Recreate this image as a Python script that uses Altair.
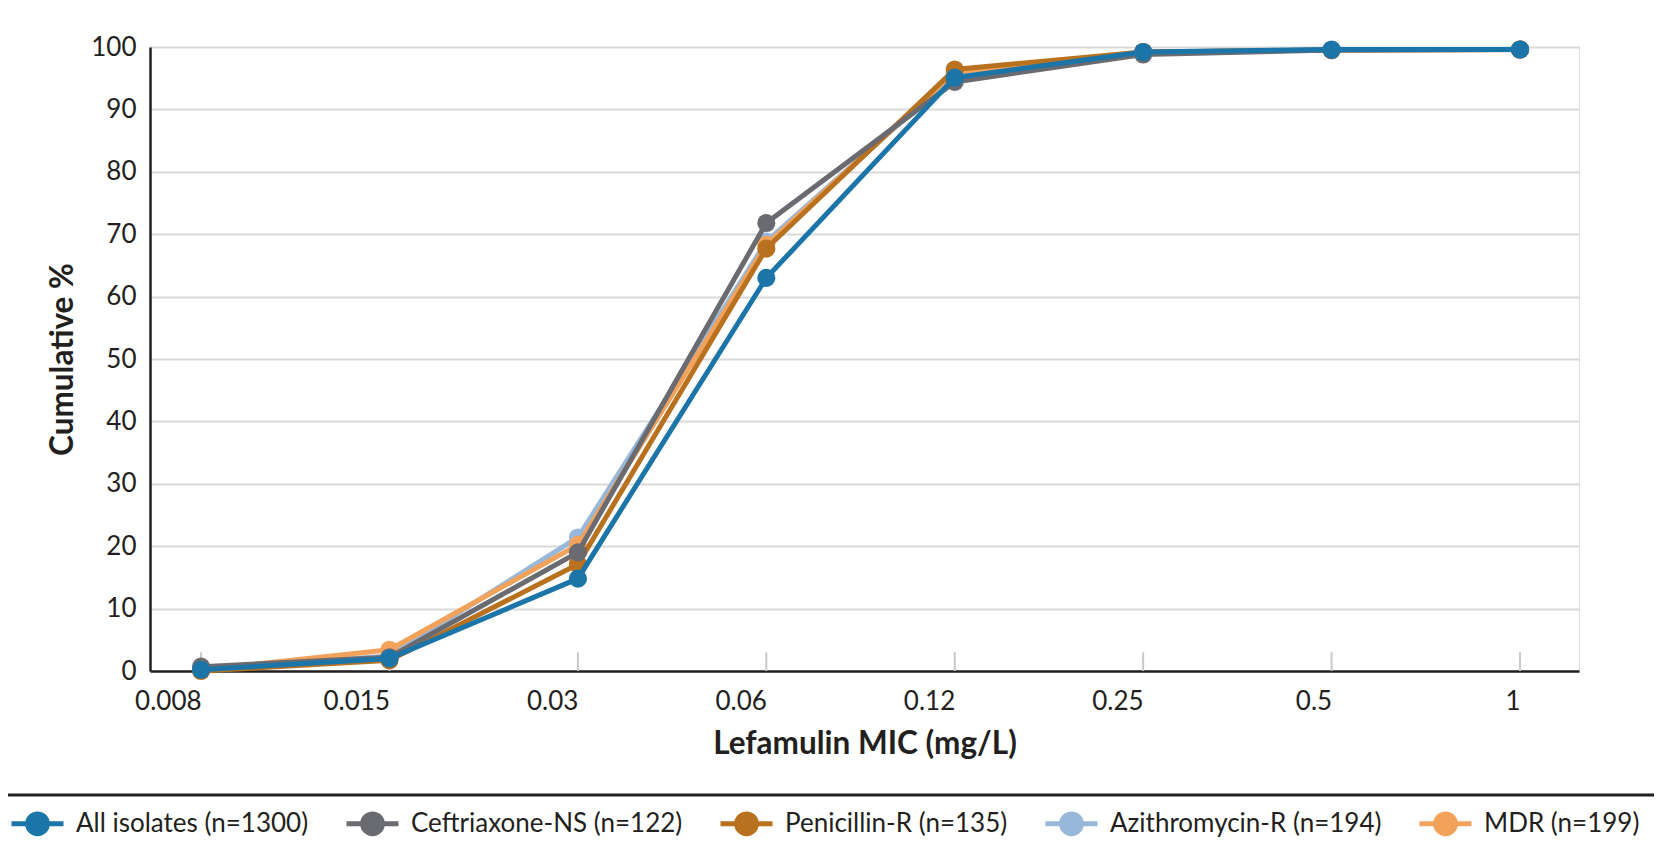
import altair as alt
import pandas as pd

mic = ["0.008", "0.015", "0.03", "0.06", "0.12", "0.25", "0.5", "1"]
series_names = [
    "All isolates (n=1300)",
    "Ceftriaxone-NS (n=122)",
    "Penicillin-R (n=135)",
    "Azithromycin-R (n=194)",
    "MDR (n=199)",
]
all_isolates = [0.2, 2.0, 14.8, 63.0, 95.1, 99.2, 99.6, 99.6]
ceftriaxone = [0.7, 2.2, 19.0, 71.8, 94.4, 98.8, 99.5, 99.6]
penicillin = [0.0, 1.7, 17.1, 67.7, 96.4, 99.2, 99.5, 99.6]
azithromycin = [0.3, 2.4, 21.4, 68.8, 95.6, 99.2, 99.5, 99.6]
mdr = [0.2, 3.4, 20.2, 68.3, 96.0, 99.2, 99.5, 99.6]
colors = ["#1b75a9", "#6a6b70", "#b8711e", "#98b8da", "#f2a25a"]
draw_order = [3, 4, 2, 1, 0]  # light blue, orange, brown, gray, blue on top
tick_y = [0, 3]

values = [all_isolates, ceftriaxone, penicillin, azithromycin, mdr]
rows = []
for si, (name, vals) in enumerate(zip(series_names, values)):
    for m, v in zip(mic, vals):
        rows.append({"mic": m, "pct": v, "series": name})
df = pd.DataFrame(rows)
ticks_df = pd.DataFrame([{"mic": m, "y0": tick_y[0], "y1": tick_y[1]} for m in mic])

FONT = "Lato"
W, H = 1429, 624
x_scale = alt.Scale(type="point", padding=0.292, align=0.464)

x_enc = alt.X(
    "mic:N",
    sort=mic,
    scale=x_scale,
    axis=alt.Axis(
        title="Lefamulin MIC (mg/L)",
        labelAngle=0,
        ticks=False,
        labelPadding=30,
        titlePadding=14,
        labelFontSize=26,
        titleFontSize=31.5,
        labelColor="#231f20",
        titleColor="#231f20",
        labelFont=FONT,
        titleFont=FONT,
        titleFontWeight="bold",
        grid=False,
        domainColor="#231f20",
        domainWidth=2.5,
    ),
)
y_scale = alt.Scale(domain=[0, 100], nice=False)
y_axis = alt.Axis(
    title="Cumulative %",
    values=list(range(0, 101, 10)),
    ticks=False,
    labelPadding=14,
    titlePadding=11,
    labelFontSize=26,
    titleFontSize=31.5,
    labelColor="#231f20",
    titleColor="#231f20",
    labelFont=FONT,
    titleFont=FONT,
    titleFontWeight="bold",
    grid=True,
    gridColor="#d9d9d9",
    gridWidth=2,
    domainColor="#231f20",
    domainWidth=2.5,
)

legend_symbol = "M-1,0L1,0M0.38,0A0.38,0.38,0,1,1,-0.38,0A0.38,0.38,0,1,1,0.38,0Z"
legend = alt.Legend(
    title=None,
    orient="none",
    direction="horizontal",
    legendX=-141,
    legendY=748,
    symbolType=legend_symbol,
    symbolSize=2704,
    symbolStrokeWidth=5,
    labelFont=FONT,
    labelFontSize=26,
    labelColor="#231f20",
    labelOffset=10,
    labelLimit=0,
    columnPadding=27,
    columns=5,
)

ticks = alt.Chart(ticks_df).mark_rule(color="#c8c8c8", strokeWidth=2).encode(
    x=alt.X("mic:N", sort=mic, scale=x_scale),
    y=alt.Y("y0:Q", scale=y_scale),
    y2="y1:Q",
)

layers = [ticks]
for si in draw_order:
    sub = df[df["series"] == series_names[si]]
    c = alt.Chart(sub)
    ln = c.mark_line(strokeWidth=5).encode(
        x=x_enc,
        y=alt.Y("pct:Q", scale=y_scale, axis=y_axis),
        stroke=alt.Stroke("series:N", scale=alt.Scale(domain=series_names, range=colors), legend=legend),
    )
    pt = c.mark_point(filled=True, size=330, opacity=1).encode(
        x=x_enc,
        y=alt.Y("pct:Q", scale=y_scale),
        fill=alt.Fill("series:N", scale=alt.Scale(domain=series_names, range=colors), legend=legend),
    )
    layers += [ln, pt]

sep = alt.Chart(pd.DataFrame({"a": [0]})).mark_rule(color="#231f20", strokeWidth=3).encode(
    x=alt.value(-142), x2=alt.value(1504), y=alt.value(748)
)
layers.append(sep)

chart = alt.layer(*layers).resolve_scale(stroke="shared", fill="shared").properties(
    width=W,
    height=H,
    autosize=alt.AutoSizeParams(type="none"),
    padding={"left": 142, "top": 39, "right": 75, "bottom": 170},
).configure_view(stroke="#231f20", strokeWidth=2.5).configure(background="white")

chart.save("out.html", embed_options={"renderer": "svg", "actions": False})
